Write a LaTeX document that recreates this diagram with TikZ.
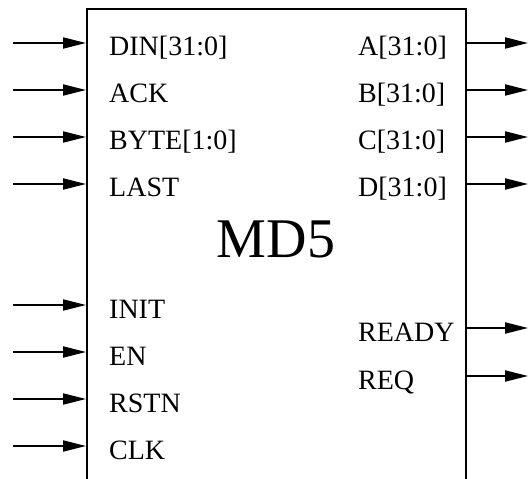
\documentclass[tikz,border=0pt]{standalone}
\usepackage{fontspec}
\setmainfont{Liberation Serif}
\usetikzlibrary{arrows.meta}
\begin{document}
\begin{tikzpicture}[x=1bp,y=-1bp,
  sig/.style={line width=2bp,-{Triangle[length=23bp,width=11bp]}},
  lbl/.style={anchor=base west,inner sep=0pt,font=\fontsize{28bp}{30bp}\selectfont},
  blockbox/.style={draw,line width=2bp,minimum width=379bp,minimum height=512bp,inner sep=0pt,anchor=north west},
  titlelbl/.style={anchor=base,inner sep=0pt,font=\fontsize{56bp}{60bp}\selectfont}]
\useasboundingbox (0,0) rectangle (529,479);
\clip (0,0) rectangle (529,479);
\node[blockbox] (box) at (86,8) {};
\node[titlelbl] (title) at (276,257) {MD5};
\foreach \y/\t/\n in {43/{DIN[31:0]}/din, 90/ACK/ack, 137/{BYTE[1:0]}/byte, 184/LAST/last,
                      305/INIT/init, 352/EN/en, 399/RSTN/rstn, 446/CLK/clk}{
  \coordinate (\n-src) at (13,\y);
  \node[lbl] (\n) at (109,{\y+13}) {\t};
  \draw[sig] (\n-src) -- (box.west |- \n-src);
}
\foreach \y/\t/\n in {43/{A[31:0]}/a, 90/{B[31:0]}/b, 137/{C[31:0]}/c, 184/{D[31:0]}/d,
                      328/READY/ready, 376/REQ/req}{
  \coordinate (\n-dst) at (528,\y);
  \node[lbl] (\n) at (358,{\y+13}) {\t};
  \draw[sig] (box.east |- \n-dst) -- (\n-dst);
}
\end{tikzpicture}
\end{document}
